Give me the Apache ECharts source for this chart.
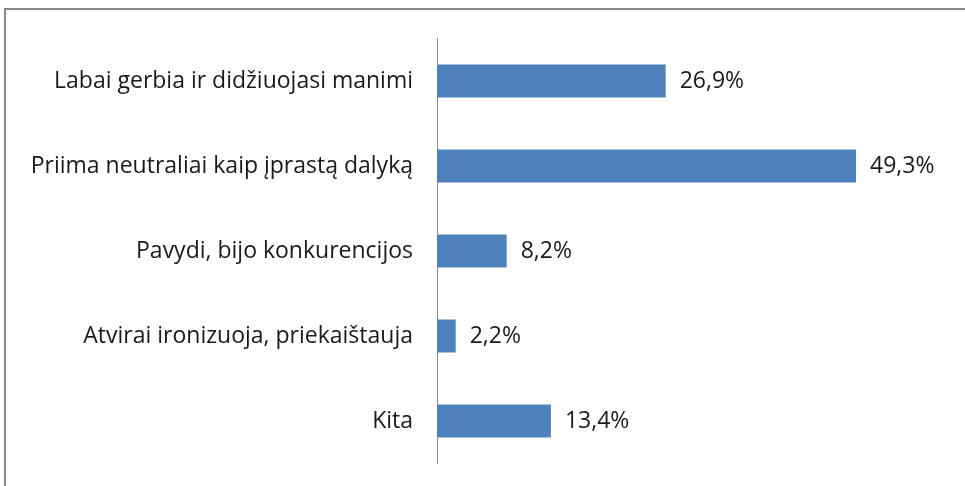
<!DOCTYPE html>
<html>
<head>
<meta charset="utf-8">
<script src="https://cdn.jsdelivr.net/npm/echarts@6/dist/echarts.min.js"></script>
<style>
  html, body { margin: 0; padding: 0; background: #fff; }
  #chart { width: 965px; height: 486px; }
</style>
</head>
<body>
<div id="chart"></div>
<script>
  // kategorijos ir reikšmės (%)
  var categories = [
    'Labai gerbia ir didžiuojasi manimi',
    'Priima neutraliai kaip įprastą dalyką',
    'Pavydi, bijo konkurencijos',
    'Atvirai ironizuoja, priekaištauja',
    'Kita'
  ];
  var values = [26.9, 49.3, 8.2, 2.2, 13.4];

  var myChart = echarts.init(document.getElementById('chart'));
  var option = {
    animation: false,
    textStyle: { fontFamily: 'Open Sans' },
    graphic: [
      {
        type: 'rect',
        shape: { x: 5, y: 9, width: 1100, height: 600 },
        style: { fill: 'none', stroke: '#8a8a8a', lineWidth: 2 },
        silent: true
      }
    ],
    grid: { left: 437, top: 38.5, width: 425, height: 425 },
    xAxis: {
      type: 'value',
      min: 0,
      max: 50,
      show: false
    },
    yAxis: {
      type: 'category',
      data: categories,
      inverse: true,
      axisLine: { lineStyle: { color: '#8a8a8a', width: 1 } },
      axisTick: { show: false },
      axisLabel: { color: '#1a1a1a', fontSize: 23, margin: 24 }
    },
    series: [
      {
        type: 'bar',
        data: values,
        barWidth: 33,
        itemStyle: { color: '#4f81bd' },
        label: {
          show: true,
          position: 'right',
          distance: 14,
          color: '#1a1a1a',
          fontSize: 23,
          formatter: function (p) {
            return p.value.toFixed(1).replace('.', ',') + '%';
          }
        }
      }
    ]
  };
  option && myChart.setOption(option);
</script>
</body>
</html>
